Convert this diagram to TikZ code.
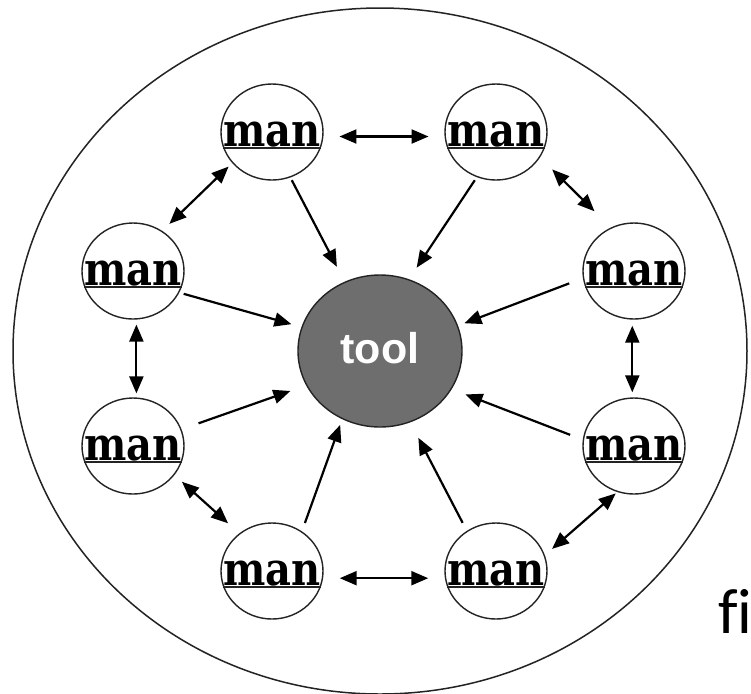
\documentclass[tikz,border=0pt]{standalone}
\usepackage{fontspec}
\setmainfont{DejaVu Serif}
\newfontfamily\toolfont{Liberation Sans}
\newfontfamily\notefont{Carlito}[Ligatures=NoCommon]
\usetikzlibrary{arrows.meta,shapes.geometric}
\definecolor{toolgray}{RGB}{110,110,110}
\definecolor{inkline}{RGB}{35,35,35}
\newcommand{\mansign}{\scalebox{0.87}[1]{man}}
\begin{document}
\begin{tikzpicture}[x=0.5pt,y=-0.5pt,
  person/.style={ellipse, draw=inkline, line width=0.7pt,
    minimum width=51pt, minimum height=48pt, inner sep=0pt},
  chord/.style={draw=inkline, line width=0.7pt},
  mantext/.style={anchor=base, inner sep=0pt,
    font=\bfseries\fontsize{23pt}{23pt}\selectfont},
  hub/.style={ellipse, draw=inkline, line width=0.7pt, fill=toolgray,
    minimum width=82pt, minimum height=76pt, inner sep=0pt,
    text=white, text height=15.5pt, text depth=3.5pt,
    font=\toolfont\bfseries\fontsize{21.5pt}{21.5pt}\selectfont},
  tip/.tip={Triangle[length=8.5pt,width=7pt]},
  flow/.style={line width=1.1pt, -tip},
  mutual/.style={line width=1.1pt, tip-tip}]

\useasboundingbox (0,0) rectangle (751,693);
\fill[white] (0,0) rectangle (751,693);

% outer boundary
\node[ellipse, draw=inkline, line width=0.75pt, minimum width=367pt,
  minimum height=343pt, inner sep=0pt] (frame) at (380,351) {};

% the shared tool
\node[hub] (T) at (380,351) {tool};

% the eight people around it
\node[person] (A) at (272,132) {};
\node[person] (B) at (496,132) {};
\node[person] (C) at (133,271) {};
\node[person] (D) at (634,271) {};
\node[person] (E) at (133,446) {};
\node[person] (F) at (634,446) {};
\node[person] (G) at (272,571) {};
\node[person] (H) at (496,571) {};

\foreach \n in {A,B,C,D,E,F,G,H}{
  \draw[chord] (\n.-18) -- (\n.198);
  \node[mantext] (\n txt) at ([yshift=-7pt]\n.center) {\mansign};
}

% exchanges between neighbours
\draw[mutual, shorten <=8pt, shorten >=8pt] (A.-5) -- (B.185);
\draw[mutual, shorten <=2.5pt, shorten >=5pt] (A.218) -- (C.54);
\draw[mutual, shorten <=8.5pt, shorten >=11.5pt] (B.-30) -- (D.118);
\draw[mutual, shorten <=2.5pt, shorten >=2pt] (C.-86) -- (E.86);
\draw[mutual, shorten <=3pt, shorten >=2.5pt] (D.-92) -- (F.92);
\draw[mutual, shorten <=5pt, shorten >=7.5pt] (E.-35) -- (G.131);
\draw[mutual, shorten <=1pt, shorten >=4.75pt] (F.-110) -- (H.18);
\draw[mutual, shorten <=8.3pt, shorten >=8.3pt] (G.-8) -- (H.188);

% everyone acts on the tool
\draw[flow, shorten <=1.5pt, shorten >=8.4pt] (A.-68) -- (T.117);
\draw[flow, shorten <=1.8pt, shorten >=6.9pt] (B.-113) -- (T.68);
\draw[flow, shorten <=2.25pt, shorten >=5.2pt] (C.-25) -- (T.163);
\draw[flow, shorten <=7.3pt, shorten >=3.4pt] (D.188) -- (T.18);
\draw[flow, shorten <=9pt, shorten >=8.35pt] (E.19) -- (T.205);
\draw[flow, shorten <=6.75pt, shorten >=7.35pt] (F.173) -- (T.-28);
\draw[flow, shorten <=4.4pt, shorten >=3pt] (G.53) -- (T.241);
\draw[flow, shorten <=4.5pt, shorten >=8.7pt] (H.126) -- (T.-67);

% caption fragment at the right edge
\node[anchor=base west, inner sep=0pt,
  font=\notefont\fontsize{32pt}{32pt}\selectfont] (fig) at (718,633) {fi};
\end{tikzpicture}
\end{document}
